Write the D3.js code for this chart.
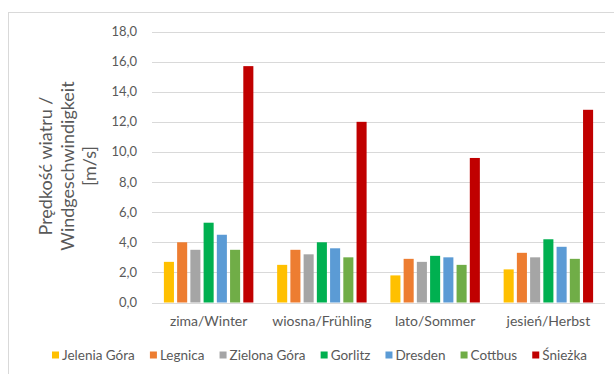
<!DOCTYPE html>
<html>
<head>
<meta charset="utf-8">
<script src="https://cdn.jsdelivr.net/npm/d3@7"></script>
<style>
  body { margin: 0; background: #fff; }
  text { font-family: Lato, "Open Sans", sans-serif; fill: #595959; }
</style>
</head>
<body>
<div id="chart"></div>
<script>
// seasons on the x axis
const seasons = ["zima/Winter", "wiosna/Frühling", "lato/Sommer", "jesień/Herbst"];
// stations (series)
const stations = ["Jelenia Góra", "Legnica", "Zielona Góra", "Gorlitz", "Dresden", "Cottbus", "Śnieżka"];
const colors = ["#FFC000", "#ED7D31", "#A5A5A5", "#00B050", "#5B9BD5", "#70AD47", "#C00000"];
// wind speed m/s, one array per station, in season order
const jeleniaGora = [2.7, 2.5, 1.8, 2.2];
const legnica     = [4.0, 3.5, 2.9, 3.3];
const zielonaGora = [3.5, 3.2, 2.7, 3.0];
const gorlitz     = [5.3, 4.0, 3.1, 4.2];
const dresden     = [4.5, 3.6, 3.0, 3.7];
const cottbus     = [3.5, 3.0, 2.5, 2.9];
const sniezka     = [15.7, 12.0, 9.6, 12.8];
const yTicks = [0, 2, 4, 6, 8, 10, 12, 14, 16, 18];

const series = [jeleniaGora, legnica, zielonaGora, gorlitz, dresden, cottbus, sniezka];

const W = 614, H = 374;
const svg = d3.select("#chart").append("svg")
    .attr("width", W).attr("height", H);

// chart frame
svg.append("rect")
    .attr("x", 8.5).attr("y", 12.5)
    .attr("width", 700).attr("height", 500)
    .attr("fill", "none").attr("stroke", "#d9d9d9");

const x0 = d3.scaleBand().domain(seasons).range([152, 605]);
const bw = x0.bandwidth();
const x1 = d3.scaleBand().domain(stations)
    .range([bw * 0.105, bw * 0.895]).paddingInner(0.24);
const y = d3.scaleLinear().domain([0, 18]).range([302.5, 31.5]);

// gridlines
svg.append("g").selectAll("line").data(yTicks).join("line")
    .attr("x1", 152).attr("x2", 605)
    .attr("y1", d => Math.round(y(d)) + 0.5).attr("y2", d => Math.round(y(d)) + 0.5)
    .attr("stroke", "#d9d9d9");

// y tick labels
const fmt = d => d.toFixed(1).replace(".", ",");
svg.append("g").selectAll("text").data(yTicks).join("text")
    .attr("x", 137).attr("y", d => y(d))
    .attr("dy", "0.35em")
    .attr("text-anchor", "end")
    .style("font-size", "13px")
    .text(fmt);

// bars
const groups = svg.append("g").selectAll("g").data(seasons).join("g")
    .attr("transform", d => `translate(${x0(d)},0)`);
groups.selectAll("rect")
    .data((s, i) => stations.map((st, k) => ({ st, k, v: series[k][i] })))
    .join("rect")
    .attr("x", d => x1(d.st))
    .attr("width", x1.bandwidth())
    .attr("y", d => y(d.v))
    .attr("height", d => y(0) - y(d.v))
    .attr("fill", d => colors[d.k]);

// category labels
svg.append("g").selectAll("text").data(seasons).join("text")
    .attr("x", d => x0(d) + bw / 2)
    .attr("y", 321)
    .attr("dy", "0.35em")
    .attr("text-anchor", "middle")
    .style("font-size", "14px")
    .text(d => d);

// y axis title
const title = svg.append("text")
    .attr("transform", "translate(68,166) rotate(-90)")
    .attr("text-anchor", "middle")
    .style("font-size", "18px");
["Prędkość wiatru /", "Windgeschwindigkeit", "[m/s]"].forEach((t, i) => {
    title.append("tspan").attr("x", 0).attr("y", (i - 1) * 22).attr("dy", "0.35em").text(t);
});

// legend: spread items between x=52 and x=587
const legend = svg.append("g").attr("transform", "translate(52,355)");
const items = stations.map((st, k) => {
    const item = legend.append("g");
    item.append("rect").attr("x", 0).attr("y", -3.5).attr("width", 7).attr("height", 7)
        .attr("fill", colors[k]);
    const t = item.append("text").attr("x", 10).attr("y", 0).attr("dy", "0.35em")
        .style("font-size", "13.5px").text(st);
    return { item, w: 10 + t.node().getComputedTextLength() };
});
const totalW = d3.sum(items, d => d.w);
const gap = (535 - totalW) / (items.length - 1);
let lx = 0;
items.forEach(d => {
    d.item.attr("transform", `translate(${lx},0)`);
    lx += d.w + gap;
});
</script>
</body>
</html>
